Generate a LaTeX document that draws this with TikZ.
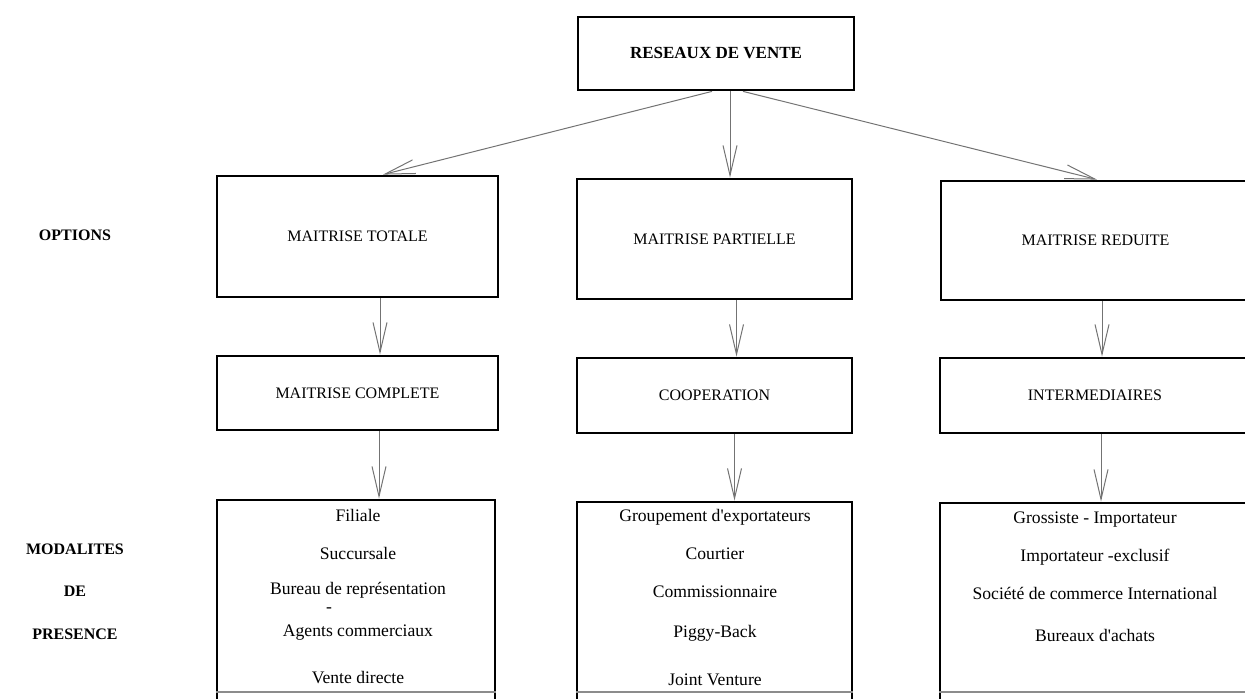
\documentclass[tikz,border=0pt]{standalone}
\usepackage{fontspec}
\setmainfont{Liberation Serif}[Ligatures=TeXOff]
\usetikzlibrary{arrows.meta,calc}
\begin{document}
\begin{tikzpicture}[x=0.5pt,y=-0.5pt,
  box/.style={draw=black,line width=1.4pt,inner sep=0pt,font=\fontsize{8}{9}\selectfont},
  arr/.style={draw=black!55,line width=0.5pt,-{Straight Barb[length=15pt,width=7pt,line width=0.5pt]}},
  lbl/.style={font=\bfseries\fontsize{8}{9}\selectfont,inner sep=0pt},
  item/.style={font=\fontsize{8.8}{10}\selectfont,inner sep=0pt},
  bottomline/.style={draw=black!45,line width=0.7pt}]
\useasboundingbox (0,0) rectangle (1245,699);
\clip (0,0) rectangle (1245,699);

% top
\node[box,minimum width=138pt,minimum height=36.5pt,font=\bfseries\fontsize{8.5}{10}\selectfont] (top) at (716,53.5) {RESEAUX DE VENTE};

% row 1
\node[box,minimum width=140.5pt,minimum height=60.5pt] (tot) at (357.5,236.5) {MAITRISE TOTALE};
\node[box,minimum width=137.5pt,minimum height=60pt] (par) at (714.5,239) {MAITRISE PARTIELLE};
\node[box,minimum width=154.5pt,minimum height=59.5pt] (red) at (1095.5,240.5) {MAITRISE REDUITE};

% row 2
\node[box,minimum width=140.5pt,minimum height=37pt] (comp) at (357.5,393) {MAITRISE COMPLETE};
\node[box,minimum width=137.5pt,minimum height=37.5pt] (coop) at (714.5,395.5) {COOPERATION};
\node[box,minimum width=155pt,minimum height=37.5pt] (inter) at (1095,395.5) {INTERMEDIAIRES};

% row 3 (running past the lower edge)
\node[box,minimum width=139pt,minimum height=105pt] (l3) at (356,605) {};
\node[box,minimum width=137.5pt,minimum height=104pt] (m3) at (714.5,606) {};
\node[box,minimum width=155pt,minimum height=103.5pt] (r3) at (1095,606.5) {};
\coordinate (yb) at (0,692);
\draw[bottomline] (l3.west |- yb) -- (l3.east |- yb);
\draw[bottomline] (m3.west |- yb) -- (m3.east |- yb);
\draw[bottomline] (r3.west |- yb) -- (r3.east |- yb);

% left labels
\node[lbl] (opt) at (75,235) {OPTIONS};
\node[lbl] (mod) at (75,549) {MODALITES};
\node[lbl] (de) at (75,591) {DE};
\node[lbl] (pre) at (75,634) {PRESENCE};

% list items
\node[item] (a1) at (358,515) {Filiale};
\node[item] (a2) at (358,553) {Succursale};
\node[item] (a3) at (358,590) {Bureau de représentation};
\node[item] (a4) at (329,610) {-};
\node[item] (a5) at (358,633) {Agents commerciaux};
\node[item] (a6) at (358,678) {Vente directe};

\node[item] (b1) at (715,517) {Groupement d'exportateurs};
\node[item] (b2) at (715,554) {Courtier};
\node[item] (b3) at (715,592) {Commissionnaire};
\node[item] (b4) at (715,633) {Piggy-Back};
\node[item] (b5) at (715,680) {Joint Venture};

\node[item] (c1) at (1095,520) {Grossiste - Importateur};
\node[item] (c2) at (1095,557) {Importateur -exclusif};
\node[item] (c3) at (1095,593) {Société de commerce International};
\node[item] (c4) at (1095,635) {Bureaux d'achats};

% connectors
\draw[arr] ($(top.south)+(-4,0)$) -- ($(tot.north)+(25.5,0)$);
\draw[arr] ($(top.south)+(14,0)$) -- ($(par.north)+(15.5,0)$);
\draw[arr] ($(top.south)+(27,0)$) -- ($(red.north)+(1.5,0)$);

\draw[arr] ($(tot.south)+(22.5,0)$) -- ($(comp.north)+(22.5,0)$);
\draw[arr] ($(par.south)+(22,0)$) -- ($(coop.north)+(22,0)$);
\draw[arr] ($(red.south)+(6.5,0)$) -- ($(inter.north)+(7,0)$);

\draw[arr] ($(comp.south)+(21.5,0)$) -- ($(l3.north)+(23,0)$);
\draw[arr] ($(coop.south)+(20,0)$) -- ($(m3.north)+(20,0)$);
\draw[arr] ($(inter.south)+(6,0)$) -- ($(r3.north)+(6,0)$);
\end{tikzpicture}
\end{document}
